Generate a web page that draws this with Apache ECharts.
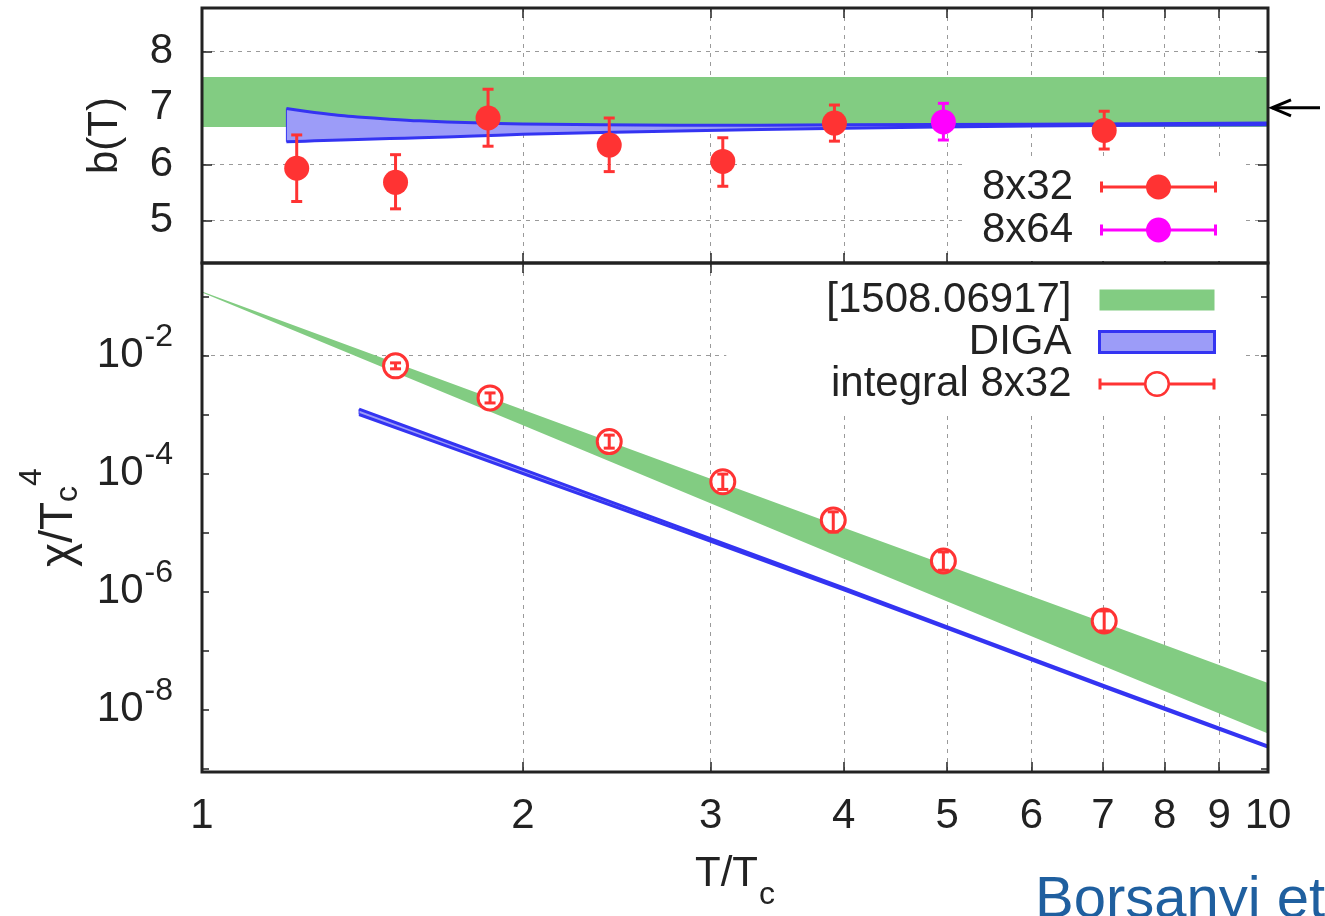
<!DOCTYPE html>
<html><head><meta charset="utf-8">
<script src="https://cdn.jsdelivr.net/npm/echarts@6/dist/echarts.min.js"></script>
<style>html,body{margin:0;padding:0;background:#fff}#c{width:1325px;height:916px}</style>
</head><body><div id="c"></div>
<script>
// ---------------- data ----------------
const xTickValues = [1, 2, 3, 4, 5, 6, 7, 8, 9, 10];
const xTickLabels = ['1', '2', '3', '4', '5', '6', '7', '8', '9', '10'];
const chiGridValues = [1e-2, 1e-4, 1e-6, 1e-8];
const bArrowValue = 7;

// upper panel b(T)
const wbBT = [1, 10];
const wbBLo = [6.66, 6.66];
const wbBHi = [7.545, 7.545];
const digaBT = [1.2, 1.25, 1.3, 1.35, 1.4, 1.5, 1.6, 1.8, 2, 2.8, 4, 6, 10];
const digaBHi = [6.99, 6.94, 6.90, 6.865, 6.84, 6.80, 6.77, 6.735, 6.715, 6.69, 6.70, 6.71, 6.73];
const digaBLo = [6.40, 6.41, 6.42, 6.43, 6.44, 6.455, 6.47, 6.50, 6.53, 6.59, 6.64, 6.68, 6.70];
const b832T = [1.227, 1.519, 1.855, 2.41, 3.08, 3.92, 7.02];
const b832 = [5.93, 5.68, 6.82, 6.34, 6.05, 6.73, 6.60];
const b832Lo = [5.34, 5.21, 6.32, 5.87, 5.61, 6.41, 6.27];
const b832Hi = [6.52, 6.17, 7.33, 6.82, 6.47, 7.05, 6.94];
const b864T = [4.96];
const b864 = [6.75];
const b864Lo = [6.43];
const b864Hi = [7.08];

// lower panel chi/Tc^4
const wbChiT = [1, 2, 4, 7, 10];
const wbChiHi = [0.122, 1.2e-3, 1.2e-5, 3.0e-7, 2.8e-8];
const wbChiLo = [0.1175, 6.6e-4, 3.6e-6, 5.5e-8, 3.9e-9];
const digaChiT = [1.404, 2, 4, 7, 10];
const digaChiHi = [1.23e-3, 1.17e-4, 1.15e-6, 2.57e-8, 2.4e-9];
const digaChiLo = [1.0e-3, 1.0e-4, 1.07e-6, 2.45e-8, 2.29e-9];
const intT = [1.519, 1.863, 2.41, 3.08, 3.91, 4.96, 7.02];
const intChi = [6.68e-3, 1.91e-3, 3.47e-4, 7.24e-5, 1.62e-5, 3.28e-6, 3.16e-7];
const intLo = [5.95e-3, 1.57e-3, 2.69e-4, 5.37e-5, 1.02e-5, 2.29e-6, 2.14e-7];
const intHi = [7.5e-3, 2.32e-3, 4.47e-4, 9.77e-5, 2.24e-5, 4.68e-6, 4.68e-7];

// ---------------- style / layout ----------------
const FONT = 'Liberation Sans';
const INK = '#222';
const RED = '#ff3333', MAGENTA = '#ff00ff', GREEN = '#82cc82';
const BLUE = '#3434f2', BLUEFILL = '#9c9cf8';
const GL = 202, GW = 1066, G1T = 8, G1H = 255, G2T = 263, G2H = 509;

const gridStyle = { color: '#9a9a9a', type: [4, 5], width: 1 };
const tickStyle = { show: true, inside: true, length: 10, lineStyle: { color: INK, width: 1.5 } };
const minorTick = { show: true, splitNumber: 9, length: 10, lineStyle: { color: INK, width: 1.5 } };

const ICON_PT = 'path://M0 7.5h3v11h-3Z M114 7.5h3v11h-3Z M0 11.5h117v3h-117Z M46 13a12.5 12.5 0 1 1 25 0a12.5 12.5 0 1 1 -25 0Z';
const ICON_RING = 'path://M0 7.5h3v11h-3Z M114 7.5h3v11h-3Z M0 11.5H46v3H0Z M71 11.5H117v3H71Z M45.5 13a13 13 0 1 1 26 0a13 13 0 1 1 -26 0Z M48 13a10.5 10.5 0 1 0 21 0a10.5 10.5 0 1 0 -21 0Z';
const ICON_BOX = 'path://M0 0M117 26M1 2.5H116V23.5H1Z';

function bandSeries(name, gi, T, lo, hi, fill, edge, z) {
  return {
    type: 'custom', name: name, xAxisIndex: gi * 2, yAxisIndex: gi * 2, z: z, clip: true, silent: true,
    data: T.map((t, i) => [t, lo[i], hi[i]]),
    renderItem: function (params, api) {
      if (params.dataIndex !== 0) return null;
      const up = T.map((t, i) => api.coord([t, hi[i]]));
      const dn = T.map((t, i) => api.coord([t, lo[i]]));
      const children = [{ type: 'polygon', shape: { points: up.concat(dn.slice().reverse()) }, style: { fill: fill } }];
      if (edge) {
        children.push({ type: 'polyline', shape: { points: up, smooth: 0.25 }, style: { stroke: edge, lineWidth: 3, fill: null } });
        children.push({ type: 'polyline', shape: { points: dn, smooth: 0.25 }, style: { stroke: edge, lineWidth: 3, fill: null } });
        children.push({ type: 'line', shape: { x1: up[0][0], y1: up[0][1], x2: dn[0][0], y2: dn[0][1] }, style: { stroke: edge, lineWidth: 1 } });
      }
      return { type: 'group', children: children };
    }
  };
}
function errSeries(name, gi, T, lo, hi, color, capW, z) {
  return {
    type: 'custom', name: name, xAxisIndex: gi * 2, yAxisIndex: gi * 2, z: z, silent: true,
    data: T.map((t, i) => [t, lo[i], hi[i]]),
    renderItem: function (params, api) {
      const x = api.value(0);
      const a = api.coord([x, api.value(1)]);
      const b = api.coord([x, api.value(2)]);
      const h = capW / 2, st = { stroke: color, lineWidth: 3 };
      return { type: 'group', children: [
        { type: 'line', shape: { x1: a[0], y1: a[1], x2: b[0], y2: b[1] }, style: st },
        { type: 'line', shape: { x1: a[0] - h, y1: a[1], x2: a[0] + h, y2: a[1] }, style: st },
        { type: 'line', shape: { x1: b[0] - h, y1: b[1], x2: b[0] + h, y2: b[1] }, style: st }
      ] };
    }
  };
}

const markData = chiGridValues.map(v => ({ yAxis: v, lineStyle: gridStyle, label: { show: false } }))
  .concat(xTickValues.map((v, i) => ({
    xAxis: v, name: xTickLabels[i], lineStyle: { color: 'rgba(0,0,0,0)', width: 0, type: 'solid' },
    label: { show: true, position: 'start', distance: 23, formatter: '{b}', color: INK, fontSize: 42, fontFamily: FONT, opacity: 1 }
  })));

const chart = echarts.init(document.getElementById('c'), null, { renderer: 'canvas' });
const option = {
  animation: false,
  backgroundColor: '#fff',
  grid: [
    { left: GL, top: G1T, width: GW, height: G1H },
    { left: GL, top: G2T, width: GW, height: G2H }
  ],
  xAxis: [
    { type: 'log', gridIndex: 0, position: 'bottom', min: 1, max: 10, axisLine: { show: false }, axisTick: tickStyle, minorTick: minorTick,
      axisLabel: { show: false }, splitLine: { show: false }, minorSplitLine: { show: true, lineStyle: gridStyle } },
    { type: 'log', gridIndex: 0, position: 'top', min: 1, max: 10, axisLine: { show: false }, axisTick: tickStyle, minorTick: minorTick,
      axisLabel: { show: false }, splitLine: { show: false } },
    { type: 'log', gridIndex: 1, position: 'bottom', min: 1, max: 10, axisLine: { show: false }, axisTick: tickStyle, minorTick: minorTick,
      axisLabel: { show: false }, splitLine: { show: false }, minorSplitLine: { show: true, lineStyle: gridStyle },
      name: '{m|T/T}{s|c}', nameLocation: 'middle', nameGap: 65,
      nameTextStyle: { color: INK, fontFamily: FONT, rich: { m: { fontSize: 42, color: INK, fontFamily: FONT }, s: { fontSize: 32, color: INK, fontFamily: FONT, padding: [42, 0, 0, 1] } } } },
    { type: 'log', gridIndex: 1, position: 'top', min: 1, max: 10, axisLine: { show: false }, axisTick: tickStyle, minorTick: minorTick,
      axisLabel: { show: false }, splitLine: { show: false } }
  ],
  yAxis: [
    { type: 'value', gridIndex: 0, position: 'left', min: 4.25, max: 8.77, axisLine: { show: false }, axisTick: tickStyle,
      axisLabel: { fontSize: 42, color: INK, fontFamily: FONT, margin: 29, showMinLabel: false, showMaxLabel: false },
      splitLine: { show: true, showMinLine: false, showMaxLine: false, lineStyle: gridStyle },
      name: 'b(T)', nameLocation: 'middle', nameRotate: 90, nameGap: 76,
      nameTextStyle: { fontSize: 42, color: INK, fontFamily: FONT } },
    { type: 'value', gridIndex: 0, position: 'right', min: 4.25, max: 8.77, axisLine: { show: false }, axisTick: tickStyle,
      axisLabel: { show: false }, splitLine: { show: false } },
    { type: 'log', gridIndex: 1, position: 'left', min: 8.7e-10, max: 0.37, axisLine: { show: false },
      axisTick: { show: true, inside: true, length: 7, lineStyle: { color: INK, width: 1.5 } },
      axisLabel: { margin: 29, showMinLabel: false, showMaxLabel: false,
        formatter: function (v) {
          const e = Math.log10(v), r = Math.round(e);
          if (Math.abs(e - r) > 1e-6) return '';
          if (!chiGridValues.some(g => Math.abs(Math.log10(g) - r) < 1e-6)) return '';
          return '{b|10}{s|' + r + '}';
        },
        rich: { b: { fontSize: 42, color: INK, fontFamily: FONT }, s: { fontSize: 32, color: INK, fontFamily: FONT, padding: [0, 0, 37, 1] } } },
      splitLine: { show: false },
      name: '{m|χ/T}{s|c}{p|4}', nameLocation: 'middle', nameRotate: 90, nameGap: 99,
      nameTextStyle: { color: INK, fontFamily: FONT, rich: {
        m: { fontSize: 46, color: INK, fontFamily: FONT },
        s: { fontSize: 32, color: INK, fontFamily: FONT, padding: [17, 0, 0, 0] },
        p: { fontSize: 32, color: INK, fontFamily: FONT, padding: [0, 0, 55, 0] } } } },
    { type: 'log', gridIndex: 1, position: 'right', min: 8.7e-10, max: 0.37, axisLine: { show: false },
      axisTick: { show: true, inside: true, length: 7, lineStyle: { color: INK, width: 1.5 } },
      axisLabel: { show: false }, splitLine: { show: false } }
  ],
  legend: [
    { orient: 'vertical', align: 'right', right: 84, top: 160, padding: [6, 24, 10, 16], itemGap: 1,
      itemWidth: 117, itemHeight: 26, backgroundColor: '#fff', selectedMode: false,
      textStyle: { fontSize: 42, color: INK, fontFamily: FONT, lineHeight: 42, padding: [0, 22, 0, 0] },
      data: [
        { name: '8x32', icon: ICON_PT, itemStyle: { color: RED, borderWidth: 0 } },
        { name: '8x64', icon: ICON_PT, itemStyle: { color: MAGENTA, borderWidth: 0 } }
      ] },
    { orient: 'vertical', align: 'right', right: 84, top: 263, padding: [16, 24, 8, 100], itemGap: 0,
      itemWidth: 117, itemHeight: 26, backgroundColor: '#fff', selectedMode: false,
      textStyle: { fontSize: 42, color: INK, fontFamily: FONT, lineHeight: 41, padding: [0, 22, 0, 0] },
      data: [
        { name: '[1508.06917]', icon: ICON_BOX, itemStyle: { color: GREEN, borderWidth: 0 } },
        { name: 'DIGA', icon: ICON_BOX, itemStyle: { color: BLUEFILL, borderColor: BLUE, borderWidth: 3 } },
        { name: 'integral 8x32', icon: ICON_RING, itemStyle: { color: RED, borderWidth: 0 } }
      ] }
  ],
  series: [
    bandSeries('[1508.06917]', 0, wbBT, wbBLo, wbBHi, GREEN, null, 1),
    bandSeries('DIGA', 0, digaBT, digaBLo, digaBHi, BLUEFILL, BLUE, 2),
    errSeries('8x32', 0, b832T, b832Lo, b832Hi, RED, 11, 3),
    { type: 'scatter', name: '8x32', xAxisIndex: 0, yAxisIndex: 0, z: 3, silent: true, symbol: 'circle', symbolSize: 25,
      itemStyle: { color: RED, opacity: 1 }, data: b832T.map((t, i) => [t, b832[i]]) },
    errSeries('8x64', 0, b864T, b864Lo, b864Hi, MAGENTA, 11, 3),
    { type: 'scatter', name: '8x64', xAxisIndex: 0, yAxisIndex: 0, z: 3, silent: true, symbol: 'circle', symbolSize: 25,
      itemStyle: { color: MAGENTA, opacity: 1 }, data: b864T.map((t, i) => [t, b864[i]]) },

    bandSeries('[1508.06917]', 1, wbChiT, wbChiLo, wbChiHi, GREEN, null, 1),
    bandSeries('DIGA', 1, digaChiT, digaChiLo, digaChiHi, BLUEFILL, BLUE, 2),
    { type: 'scatter', name: 'integral 8x32', xAxisIndex: 2, yAxisIndex: 2, z: 3, silent: true, symbol: 'circle', symbolSize: 24,
      itemStyle: { color: '#fff', borderColor: RED, borderWidth: 3, opacity: 1 },
      data: intT.map((t, i) => [t, intChi[i]]),
      markLine: { silent: true, symbol: ['none', 'none'], z: 0, animation: false, data: markData } },
    errSeries('integral 8x32', 1, intT, intLo, intHi, RED, 11, 4)
  ]
};
chart.setOption(option);

// frame, arrow and note drawn on top
const ap = chart.convertToPixel({ xAxisIndex: 0, yAxisIndex: 0 }, [10, bArrowValue]);
chart.setOption({
  graphic: [
    { type: 'rect', z: 100, silent: true, shape: { x: GL, y: G1T, width: GW, height: G1H }, style: { fill: null, stroke: INK, lineWidth: 3 } },
    { type: 'rect', z: 100, silent: true, shape: { x: GL, y: G2T, width: GW, height: G2H }, style: { fill: null, stroke: INK, lineWidth: 3 } },
    { type: 'line', z: 100, silent: true, shape: { x1: ap[0] + 4, y1: ap[1], x2: ap[0] + 52, y2: ap[1] }, style: { stroke: '#000', lineWidth: 3 } },
    { type: 'polyline', z: 100, silent: true, shape: { points: [[ap[0] + 23, ap[1] - 8], [ap[0] + 4, ap[1]], [ap[0] + 23, ap[1] + 8]] }, style: { stroke: '#000', lineWidth: 3, fill: null } },
    { type: 'text', z: 100, silent: true, left: 1035, top: 872, style: { text: 'Borsanyi et', fontSize: 58, fontFamily: FONT, fill: '#1f5f9f' } }
  ]
});
</script>
</body></html>
